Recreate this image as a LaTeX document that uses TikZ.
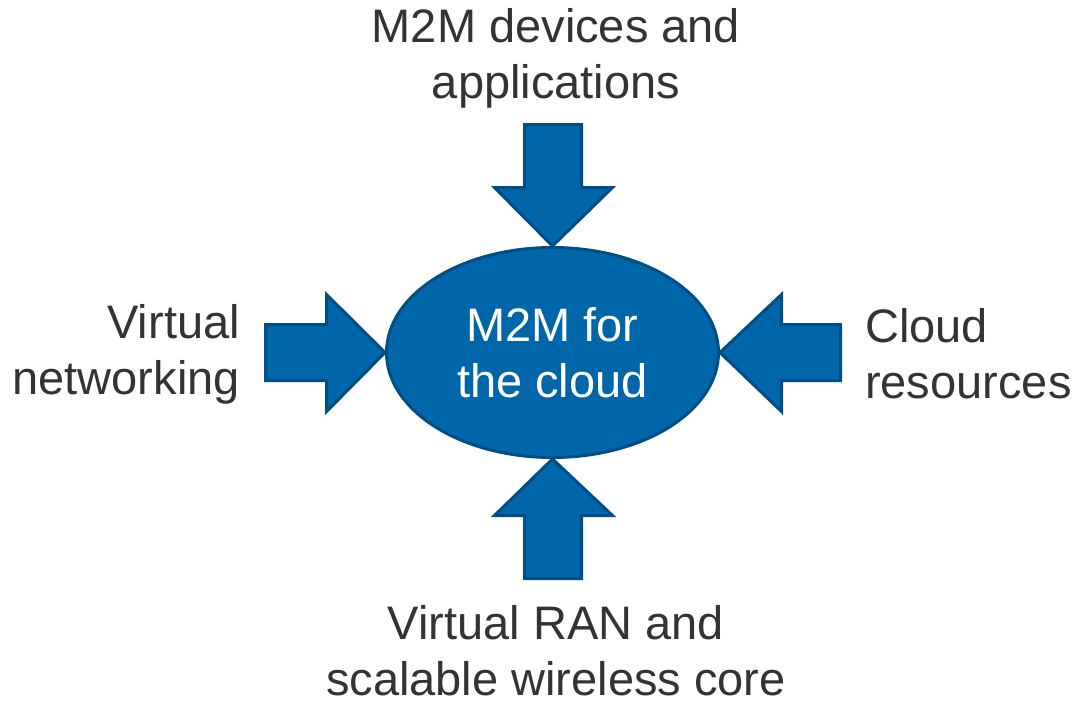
\documentclass[tikz,border=0pt]{standalone}
\usepackage{fontspec}
\setmainfont{Liberation Sans}
\usetikzlibrary{shapes.geometric}
\definecolor{m2mblue}{HTML}{0066AA}
\definecolor{m2medge}{HTML}{004E86}
\definecolor{labelgray}{HTML}{333333}
\tikzset{
  hub/.style={ellipse, fill=m2mblue, draw=m2medge, line width=3pt,
    minimum width=332pt, minimum height=210pt, inner sep=0pt,
    text=white, align=center},
  blockarrow/.style={fill=m2mblue, draw=m2medge, line width=3pt, line join=miter},
  label/.style={text=labelgray, inner sep=0pt}
}
\begin{document}
\begin{tikzpicture}[x=1pt, y=-1pt, font=\fontsize{47}{56}\selectfont]
\useasboundingbox (0,0) rectangle (1076,701);

% central ellipse
\node[hub] (m) at (552.5,352.5) {M2M for\\the cloud};

% surrounding labels
\node[label, align=center, anchor=base] (top) at (556,99) {M2M devices and\\applications};
\node[label, align=center, anchor=base] (bottom) at (556,695) {Virtual RAN and\\scalable wireless core};
\node[label, align=right, anchor=base east] (left) at (240,394) {Virtual\\networking};
\node[label, align=left, anchor=base west] (right) at (865,398) {Cloud\\resources};

% block arrows pointing into the ellipse
\draw[blockarrow] (m.north) -- (612.5,187.5) -- (581.5,187.5) -- (581.5,124.5)
  -- (524.5,124.5) -- (524.5,187.5) -- (494.5,187.5) -- cycle;
\draw[blockarrow] (m.south) -- (612.5,515.5) -- (581.5,515.5) -- (581.5,578.5)
  -- (524.5,578.5) -- (524.5,515.5) -- (494.5,515.5) -- cycle;
\draw[blockarrow] (m.west) -- (326.5,294.5) -- (326.5,324.5) -- (265.5,324.5)
  -- (265.5,380.5) -- (326.5,380.5) -- (326.5,411.5) -- cycle;
\draw[blockarrow] (m.east) -- (781.5,294.5) -- (781.5,324.5) -- (840.5,324.5)
  -- (840.5,380.5) -- (781.5,380.5) -- (781.5,411.5) -- cycle;
\end{tikzpicture}
\end{document}
